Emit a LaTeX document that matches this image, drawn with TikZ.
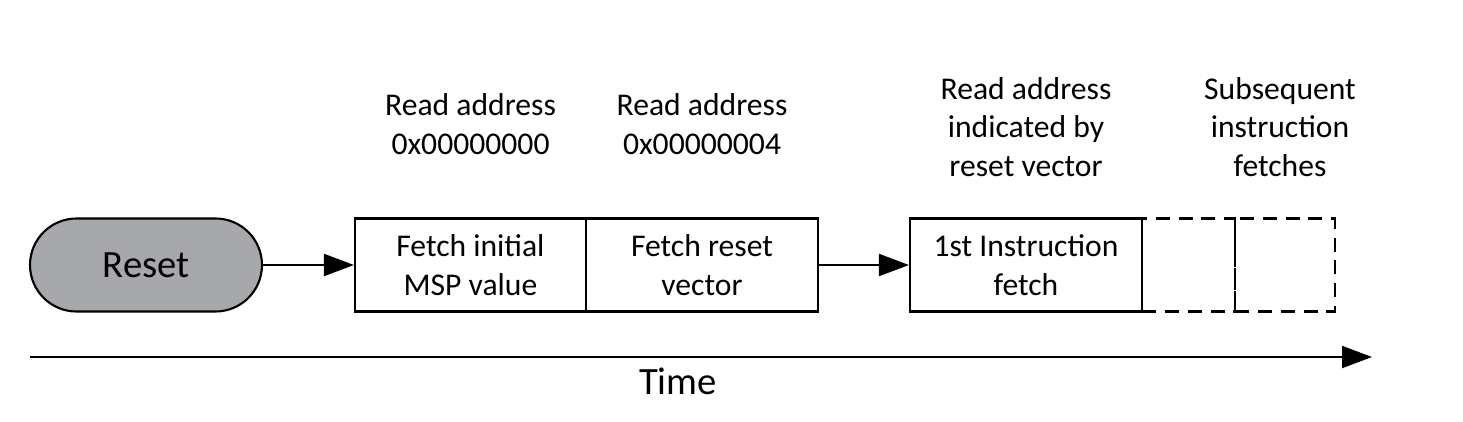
\documentclass[tikz,border=0pt]{standalone}
\usepackage{fontspec}
\setmainfont{Carlito}
\usetikzlibrary{arrows.meta}

\tikzset{
  stage/.style={draw, line width=1.2pt, minimum height=1.86cm, align=center, font=\fontsize{18}{22}\selectfont},
  later/.style={stage, dashed, dash pattern=on 8pt off 5pt},
  note/.style={align=center, font=\fontsize{18}{22}\selectfont},
  go/.style={line width=1.2pt, -{Triangle[length=0.6cm, width=0.44cm]}}
}

\begin{document}
\begin{tikzpicture}
\useasboundingbox (0,0) rectangle (29.26,8.42);

\node [stage, fill={rgb,255:red,167;green,168;blue,171}, rounded corners=0.93cm, minimum width=4.64cm, font=\fontsize{22}{26}\selectfont] (reset) at (2.92,3.12) {Reset};

\node [stage, minimum width=4.62cm] (msp) at (9.41,3.12) {Fetch initial\\MSP value};
\node [stage, minimum width=4.64cm] (vec) at (14.04,3.12) {Fetch reset\\vector};
\node [stage, minimum width=4.64cm] (first) at (20.52,3.12) {1st Instruction\\fetch};
\node [later, minimum width=1.86cm] (next) at (23.77,3.12) {};
\node [later, minimum width=2.0cm] (more) at (25.7,3.12) {};

\draw [go] (reset) -- (msp);
\draw [go] (vec) -- (first);

\node [note] (a0) at (9.41,5.94) {Read address\\0x00000000};
\node [note] (a4) at (14.04,5.94) {Read address\\0x00000004};
\node [note] (av) at (20.52,5.88) {Read address\\indicated by\\reset vector};
\node [note] (af) at (25.6,5.88) {Subsequent\\instruction\\fetches};

% time axis
\coordinate (t0) at (0.6,1.28);
\coordinate (t1) at (27.44,1.28);
\draw [go] (t0) -- (t1);
\node [font=\fontsize{22}{26}\selectfont] (time) at (13.56,0.8) {Time};
\end{tikzpicture}
\end{document}
